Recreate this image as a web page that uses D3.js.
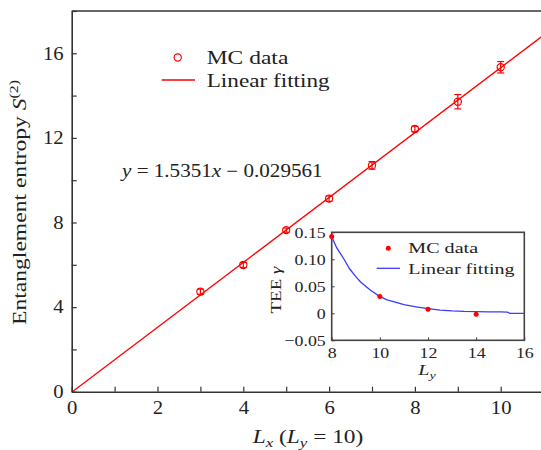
<!DOCTYPE html>
<html><head><meta charset="utf-8">
<script src="https://cdn.jsdelivr.net/npm/d3@7"></script>
<style>
body{margin:0;background:#fff}
svg{display:block}
text{font-family:"Liberation Serif","Times New Roman",serif;fill:#222}
</style>
</head><body>
<svg id="c" width="541" height="450"></svg>
<script>
// ---------- data ----------
const mcX   = [3, 4, 5, 6, 7, 8, 9, 10];
const mcY   = [4.73, 5.99, 7.64, 9.13, 10.70, 12.42, 13.71, 15.34];
const mcErr = [0.12, 0.12, 0.10, 0.13, 0.18, 0.13, 0.34, 0.27];
const fitSlope = 1.5351, fitIntercept = -0.029561;
const fitRange = [0, 11];
const xTicks = [0,1,2,3,4,5,6,7,8,9,10,11];
const xLabelTicks = [0,2,4,6,8,10];
const yTicks = [0,2,4,6,8,10,12,14,16,18];
const yLabelTicks = [0,4,8,12,16];

const insetX = [8, 10, 12, 14];
const insetY = [0.142, 0.031, 0.0075, -0.0019];
const curveX = [8, 8.2, 8.5, 8.75, 9, 9.2, 9.6, 10, 10.3, 10.6, 11, 11.5, 12, 12.5, 13, 13.5, 14, 14.5, 15, 15.3, 15.4, 16];
const curveY = [0.142, 0.122, 0.101, 0.082, 0.068, 0.058, 0.043, 0.031, 0.025, 0.021, 0.016, 0.012, 0.0085, 0.006, 0.0045, 0.0035, 0.003, 0.0028, 0.0025, 0.002, 0.0, 0.0];
const insetXTicks = [8, 10, 12, 14, 16];
const insetYTicks = [-0.05, 0, 0.05, 0.10, 0.15];

// ---------- helpers ----------
const svg = d3.select("#c");
const RED = "#ff0000", BLUE = "#3b3bff", AX = "#333";
const K = 1.15;

function fitText(g, targetW) {
  const t = g.select("text");
  const w = t.node().getBBox().width;
  t.attr("transform", `scale(${targetW / w},1)`);
}

// ---------- main chart ----------
const x = d3.scaleLinear().domain([0, 11]).range([71.7, 71.7 + 11 * 42.9]);
const y = d3.scaleLinear().domain([0, 18]).range([391.7, 391.7 - 18 * 21.15]);

// red fit line
svg.append("line")
  .attr("x1", x(fitRange[0])).attr("y1", y(fitSlope * fitRange[0] + fitIntercept))
  .attr("x2", x(fitRange[1])).attr("y2", y(fitSlope * fitRange[1] + fitIntercept))
  .attr("stroke", RED).attr("stroke-width", 1.3);

// error bars
const eb = svg.append("g").attr("stroke", RED).attr("stroke-width", 1.2).attr("fill", "none");
mcX.forEach((v, i) => {
  const cx = x(v), top = y(mcY[i] + mcErr[i]), bot = y(mcY[i] - mcErr[i]);
  eb.append("line").attr("x1", cx).attr("x2", cx).attr("y1", top).attr("y2", bot);
  eb.append("line").attr("x1", cx - 3.5).attr("x2", cx + 3.5).attr("y1", top).attr("y2", top);
  eb.append("line").attr("x1", cx - 3.5).attr("x2", cx + 3.5).attr("y1", bot).attr("y2", bot);
  eb.append("circle").attr("cx", cx).attr("cy", y(mcY[i])).attr("r", 3.6);
});

// axes
const xAxis = d3.axisBottom(x).tickValues(xTicks).tickSizeInner(-5).tickSizeOuter(0).tickPadding(10)
  .tickFormat(d => xLabelTicks.includes(d) ? String(d) : "");
const gx = svg.append("g").attr("transform", `translate(0,${y(0)})`).call(xAxis);
const yAxis = d3.axisLeft(y).tickValues(yTicks).tickSizeInner(-5).tickSizeOuter(0).tickPadding(8)
  .tickFormat(d => yLabelTicks.includes(d) ? String(d) : "");
const gy = svg.append("g").attr("transform", `translate(${x(0)},0)`).call(yAxis);
[gx, gy].forEach(g => {
  g.select(".domain").attr("stroke", AX).attr("stroke-width", 1.6);
  g.selectAll(".tick line").attr("stroke", AX).attr("stroke-width", 1.2);
  g.selectAll(".tick text").attr("font-family", "Liberation Serif").attr("font-size", 18).attr("fill", "#222");
});
gx.selectAll(".tick text").attr("transform", `scale(${K},1)`);
gy.selectAll(".tick text").attr("x", -8 / K).attr("transform", `scale(${K},1)`);
// top frame
svg.append("line").attr("x1", x(0)).attr("x2", 541).attr("y1", y(18)).attr("y2", y(18))
  .attr("stroke", AX).attr("stroke-width", 1.6);

// legend
svg.append("circle").attr("cx", 177.7).attr("cy", 57.5).attr("r", 3.6)
  .attr("fill", "none").attr("stroke", RED).attr("stroke-width", 1.2);
svg.append("line").attr("x1", 161.7).attr("x2", 195).attr("y1", 80).attr("y2", 80)
  .attr("stroke", RED).attr("stroke-width", 1.3);
let g = svg.append("g").attr("transform", "translate(206.7,63.5)");
g.append("text").attr("font-size", 18).text("MC data");
fitText(g, 81.7);
g = svg.append("g").attr("transform", "translate(206.7,87)");
g.append("text").attr("font-size", 18).text("Linear fitting");
fitText(g, 123);

// equation
g = svg.append("g").attr("transform", "translate(122,177)");
let t = g.append("text").attr("font-size", 18);
t.append("tspan").attr("font-style", "italic").text("y");
t.append("tspan").text(" = 1.5351");
t.append("tspan").attr("font-style", "italic").text("x");
t.append("tspan").text(" − 0.029561");
fitText(g, 203);

// x label
g = svg.append("g").attr("transform", "translate(308,443)");
t = g.append("text").attr("font-size", 18).attr("text-anchor", "middle");
t.append("tspan").attr("font-style", "italic").text("L");
t.append("tspan").attr("font-style", "italic").attr("font-size", 13).attr("dy", 4).text("x");
t.append("tspan").attr("dy", -4).text(" (");
t.append("tspan").attr("font-style", "italic").text("L");
t.append("tspan").attr("font-style", "italic").attr("font-size", 13).attr("dy", 4).text("y");
t.append("tspan").attr("dy", -4).text(" = 10)");
fitText(g, 112);

// y label
g = svg.append("g").attr("transform", "translate(26,202.5) rotate(-90)");
t = g.append("text").attr("font-size", 18).attr("text-anchor", "middle");
t.append("tspan").text("Entanglement entropy ");
t.append("tspan").attr("font-style", "italic").text("S");
t.append("tspan").attr("font-size", 12).attr("dy", -8).text("(2)");
fitText(g, 245);

// ---------- inset ----------
const ix = d3.scaleLinear().domain([8, 16]).range([331.7, 524.3]);
const iy = d3.scaleLinear().domain([-0.05, 0.15]).range([340.3, 232.3]);
svg.append("rect").attr("x", ix(8)).attr("y", iy(0.15))
  .attr("width", ix(16) - ix(8)).attr("height", iy(-0.05) - iy(0.15))
  .attr("fill", "#fff").attr("stroke", "#444").attr("stroke-width", 1.6);

const iLine = d3.line().x((d, i) => ix(curveX[i])).y((d, i) => iy(curveY[i]));
svg.append("path").datum(curveX).attr("d", iLine)
  .attr("fill", "none").attr("stroke", BLUE).attr("stroke-width", 1.3);
svg.append("g").selectAll("circle").data(insetX).join("circle")
  .attr("cx", d => ix(d)).attr("cy", (d, i) => iy(insetY[i])).attr("r", 2.5).attr("fill", RED);

const ixAxis = d3.axisBottom(ix).tickValues(insetXTicks).tickSizeInner(-3).tickSizeOuter(0).tickPadding(7)
  .tickFormat(d => String(d));
const gix = svg.append("g").attr("transform", `translate(0,${iy(-0.05)})`).call(ixAxis);
const iyAxis = d3.axisLeft(iy).tickValues(insetYTicks).tickSizeInner(-3).tickSizeOuter(0).tickPadding(6)
  .tickFormat(d => d === 0 ? "0" : (d < 0 ? "−" + Math.abs(d).toFixed(2) : d.toFixed(2)));
const giy = svg.append("g").attr("transform", `translate(${ix(8)},0)`).call(iyAxis);
[gix, giy].forEach(a => {
  a.select(".domain").remove();
  a.selectAll(".tick line").attr("stroke", "#444").attr("stroke-width", 1);
  a.selectAll(".tick text").attr("font-family", "Liberation Serif").attr("font-size", 15.5).attr("fill", "#222");
});
gix.selectAll(".tick text").attr("transform", `scale(${K},1)`);
giy.selectAll(".tick text").attr("x", -6 / K).attr("transform", `scale(${K},1)`);

// inset legend
svg.append("circle").attr("cx", 388.3).attr("cy", 248.3).attr("r", 2.5).attr("fill", RED);
svg.append("line").attr("x1", 376.7).attr("x2", 400).attr("y1", 268.3).attr("y2", 268.3)
  .attr("stroke", BLUE).attr("stroke-width", 1.3);
g = svg.append("g").attr("transform", "translate(408.3,253)");
g.append("text").attr("font-size", 15.5).text("MC data");
fitText(g, 70);
g = svg.append("g").attr("transform", "translate(408.3,273.5)");
g.append("text").attr("font-size", 15.5).text("Linear fitting");
fitText(g, 106.7);

// inset axis labels
g = svg.append("g").attr("transform", "translate(427,375)");
t = g.append("text").attr("font-size", 15.5).attr("text-anchor", "middle");
t.append("tspan").attr("font-style", "italic").text("L");
t.append("tspan").attr("font-style", "italic").attr("font-size", 11).attr("dy", 4).text("y");
fitText(g, 19);

g = svg.append("g").attr("transform", "translate(281,290) rotate(-90)");
t = g.append("text").attr("font-size", 15.5).attr("text-anchor", "middle");
t.append("tspan").text("TEE ");
t.append("tspan").attr("font-style", "italic").text("γ");
fitText(g, 48);
</script>
</body></html>
